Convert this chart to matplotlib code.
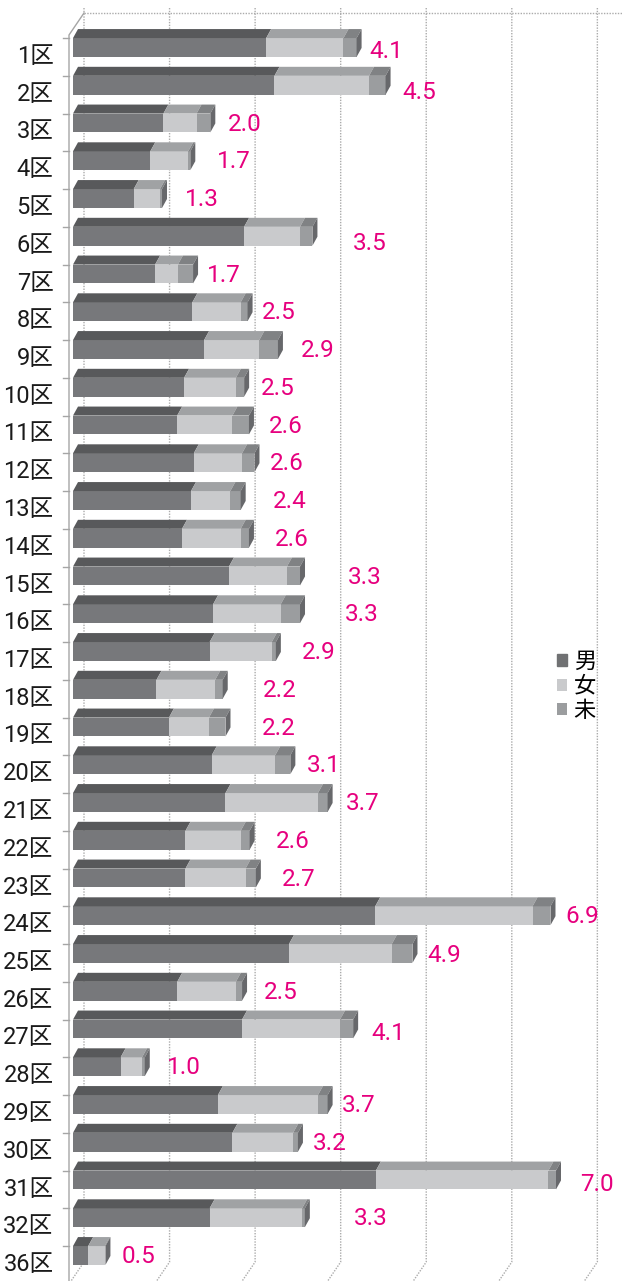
import matplotlib
matplotlib.use("Agg")
import matplotlib.pyplot as plt
from matplotlib.patches import Polygon
from matplotlib.transforms import ScaledTranslation

# ---------------- data ----------------
categories = ['1区', '2区', '3区', '4区', '5区', '6区', '7区', '8区', '9区', '10区',
              '11区', '12区', '13区', '14区', '15区', '16区', '17区', '18区', '19区', '20区',
              '21区', '22区', '23区', '24区', '25区', '26区', '27区', '28区', '29区', '30区',
              '31区', '32区', '36区']
male = [2.80, 2.92, 1.31, 1.12, 0.88, 2.48, 1.19, 1.73, 1.90, 1.61,
        1.51, 1.75, 1.71, 1.58, 2.26, 2.03, 1.98, 1.21, 1.39, 2.01,
        2.21, 1.63, 1.63, 4.38, 3.13, 1.51, 2.45, 0.69, 2.10, 2.31,
        4.39, 1.98, 0.22]
female = [1.12, 1.37, 0.48, 0.55, 0.38, 0.81, 0.33, 0.70, 0.80, 0.75,
          0.80, 0.70, 0.57, 0.85, 0.84, 0.98, 0.90, 0.85, 0.58, 0.92,
          1.34, 0.80, 0.87, 2.28, 1.49, 0.85, 1.42, 0.31, 1.45, 0.88,
          2.50, 1.34, 0.24]
unknown = [0.19, 0.24, 0.20, 0.03, 0.03, 0.18, 0.22, 0.10, 0.27, 0.12,
           0.24, 0.18, 0.15, 0.12, 0.19, 0.28, 0.06, 0.11, 0.24, 0.22,
           0.14, 0.13, 0.15, 0.26, 0.30, 0.09, 0.19, 0.04, 0.14, 0.07,
           0.11, 0.04, 0.01]
total_labels = ['4.1', '4.5', '2.0', '1.7', '1.3', '3.5', '1.7', '2.5', '2.9', '2.5',
                '2.6', '2.6', '2.4', '2.6', '3.3', '3.3', '2.9', '2.2', '2.2', '3.1',
                '3.7', '2.6', '2.7', '6.9', '4.9', '2.5', '4.1', '1.0', '3.7', '3.2',
                '7.0', '3.3', '0.5']
series_names = ['男', '女', '未']

# ---------------- layout (positions of the value labels, in axis units) ----------------
label_x = [4.30, 4.78, 2.25, 2.09, 1.62, 4.06, 1.94, 2.74, 3.30, 2.72,
           2.84, 2.86, 2.90, 2.93, 3.99, 3.94, 3.32, 2.75, 2.74, 3.39,
           3.96, 2.94, 3.03, 7.13, 5.14, 2.77, 4.33, 1.36, 3.90, 3.48,
           7.35, 4.07, 0.70]
label_dy = [0.08, 0.17, 0, 0, 0, 0.15, 0, 0, 0, 0,
            0, 0, 0, 0, 0, 0, 0, 0, 0, 0,
            0, 0, 0, 0, 0.02, 0, 0.10, 0, 0, 0,
            0.08, 0, 0]

# ---------------- figure geometry ----------------
W, H, DPI = 623, 1281, 100
X0 = 73.0          # pixel of value 0 on the bar front
PXU = 69.0         # pixels per value unit
ROW = 37.75        # pixels per category
Y0 = 47.5          # pixel centre of first bar front face

fig = plt.figure(figsize=(W / DPI, H / DPI), dpi=DPI)
fig.patch.set_facecolor('white')
ax = fig.add_axes([X0 / W, 0, (W - X0) / W, 1])
ax.set_xlim(0, (W - X0) / PXU)
ax.set_ylim((H - Y0) / ROW, -Y0 / ROW)
ax.patch.set_alpha(0)
for s in ax.spines.values():
    s.set_visible(False)
ax.set_xticks([])

def px_x(p):
    return p / PXU

def px_y(p):
    return p / ROW

n = len(categories)
ypos = list(range(n))

# colors
front_cols = ['#77787b', '#c9cacc', '#9b9d9f']
top_cols = ['#58595b', '#a0a2a4', '#808284']
side_col = '#67686b'
grid_col = '#ababab'

# ---------------- 3D walls / gridlines ----------------
WDX, WDY = 15.0, 22.0            # wall depth in px
wall_front_x = px_x(-4)           # front left edge of the floor/side wall
back_x0 = wall_front_x + px_x(WDX)
grid_step = 1.24
top_y = px_y(13 - Y0)
grid_top = px_y(8 - Y0)
back_bottom = px_y(1262 - Y0)
for k in range(7):
    gx = back_x0 + k * grid_step
    ax.plot([gx, gx, gx - px_x(WDX)], [grid_top, back_bottom, back_bottom + px_y(WDY)],
            color=grid_col, lw=1.0, ls=(0, (1, 1)), zorder=1, clip_on=False)
ax.plot([back_x0, ax.get_xlim()[1]], [top_y, top_y], color=grid_col, lw=1.0,
        ls=(0, (1, 1)), zorder=1, clip_on=False)
# left side wall edges
ax.plot([back_x0, wall_front_x, wall_front_x], [top_y, top_y + px_y(WDY), px_y(H - Y0 + 5)],
        color='#a5a5a5', lw=1.0, zorder=1, clip_on=False)
for y in ypos:
    ty = y - 0.25
    ax.plot([wall_front_x - px_x(6), wall_front_x], [ty, ty], color='#a5a5a5', lw=1.0,
            zorder=1, clip_on=False)

# ---------------- bars ----------------
BH = 0.5
BDX, BDY = px_x(5), px_y(9)
lefts = [0.0] * n
series = [male, female, unknown]
handles = []
for si, vals in enumerate(series):
    h = ax.barh(ypos, vals, left=lefts, height=BH, color=front_cols[si],
                edgecolor='none', zorder=3, label=series_names[si])
    handles.append(h)
    for i in range(n):
        l, r = lefts[i], lefts[i] + vals[i]
        yt = ypos[i] - BH / 2
        ax.add_patch(Polygon([(l, yt), (r, yt), (r + BDX, yt - BDY), (l + BDX, yt - BDY)],
                             closed=True, facecolor=top_cols[si], edgecolor='none', zorder=3))
    lefts = [lefts[i] + vals[i] for i in range(n)]

for i in range(n):
    r = lefts[i]
    yt, yb = ypos[i] - BH / 2, ypos[i] + BH / 2
    ax.add_patch(Polygon([(r, yt), (r + BDX, yt - BDY), (r + BDX, yb - BDY), (r, yb)],
                         closed=True, facecolor=side_col, edgecolor='none', zorder=3))

# ---------------- value labels ----------------
for i in range(n):
    ax.text(label_x[i], ypos[i] + 0.03 + label_dy[i], total_labels[i], color='#e6007e',
            fontsize=17.5, family=['Roboto', 'DejaVu Sans'], ha='left', va='center',
            zorder=5, clip_on=False)

# ---------------- category labels ----------------
ax.set_yticks(ypos)
ax.set_yticklabels(categories, family=['Roboto', 'Noto Sans CJK JP'], fontsize=17,
                   color='#1a1a1a')
ax.tick_params(axis='y', length=0, pad=14)
off = ScaledTranslation(0, -6.5 / DPI, fig.dpi_scale_trans)
for lab in ax.get_yticklabels():
    lab.set_transform(lab.get_transform() + off)

# ---------------- legend ----------------
leg = fig.legend(handles=handles, labels=series_names, loc='center left',
                 bbox_to_anchor=(557 / W, 1 - 686 / H), frameon=False,
                 prop={'family': 'Noto Sans CJK JP', 'size': 16},
                 handlelength=0.45, handleheight=0.45, handletextpad=0.3,
                 labelspacing=0.08, borderpad=0, borderaxespad=0)
leg.legend_handles[0].set_color('#707173')

fig.savefig('out.png', dpi=DPI, facecolor='white')
